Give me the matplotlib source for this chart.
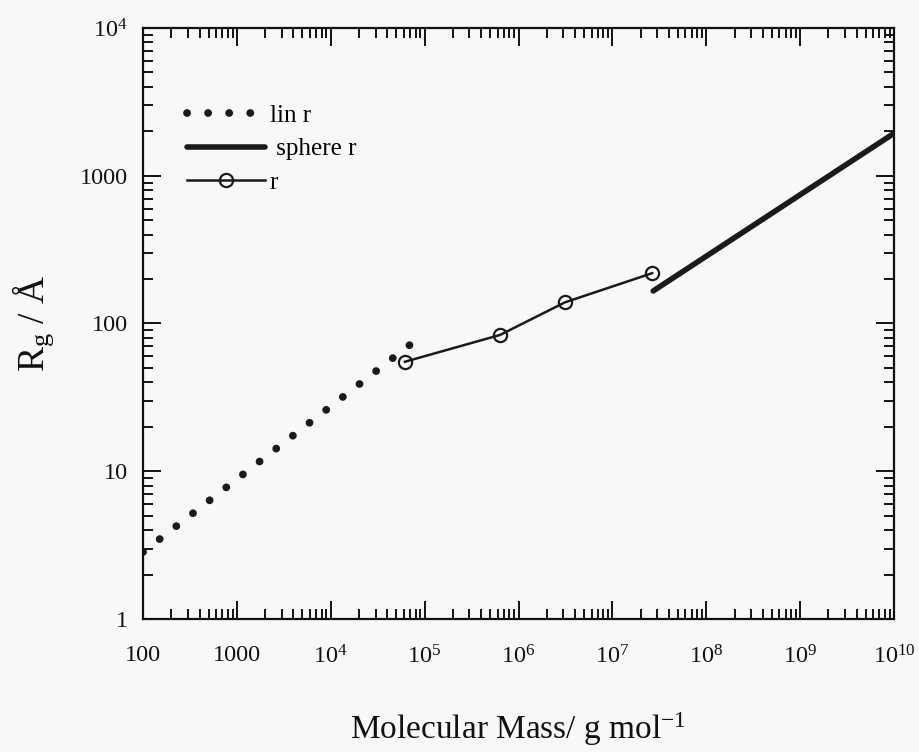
import math
import matplotlib.pyplot as plt
from matplotlib.ticker import LogLocator, FuncFormatter, NullFormatter

plt.rcParams['font.family'] = ['Liberation Serif', 'DejaVu Serif']
plt.rcParams['mathtext.fontset'] = 'custom'
plt.rcParams['mathtext.rm'] = 'Liberation Serif'
plt.rcParams['mathtext.it'] = 'Liberation Serif:italic'

# Linear (rod) model: end points of the straight line on log-log axes
lin_mass = [100, 7.15e4]
lin_rg = [2.84, 72.6]

# Sphere model
sphere_mass = [2.72e7, 1e10]
sphere_rg = [166, 1938]

# Measured radii of gyration
r_mass = [6.17e4, 6.34e5, 3.12e6, 2.65e7]
r_rg = [55.1, 83.6, 139, 219]

fig = plt.figure(figsize=(9.19, 7.52), dpi=100, facecolor='#f8f8f8')
ax = fig.add_axes([143 / 919, 1 - 619 / 752, (894 - 143) / 919, (619 - 28) / 752])
ax.set_facecolor('#f8f8f8')

ax.plot(lin_mass, lin_rg, color='#1a1a1a', lw=5.6,
        linestyle=(0, (0.01, 2.7)), dash_capstyle='round', label='lin r')
ax.plot(sphere_mass, sphere_rg, color='#1a1a1a', lw=4.0,
        solid_capstyle='round', label=' sphere r')
ax.plot(r_mass, r_rg, color='#1a1a1a', lw=1.8, marker='o', ms=9.5,
        mfc='none', mec='#1a1a1a', mew=1.6, label='r')

ax.set_xscale('log')
ax.set_yscale('log')
ax.set_xlim(100, 1e10)
ax.set_ylim(1, 1e4)


def log_label(v, pos):
    if v <= 1000:
        return f'{v:g}'
    exp = int(round(math.log10(v)))
    return r'$\mathrm{10^{%d}}$' % exp


ax.xaxis.set_major_locator(LogLocator(base=10, numticks=20))
ax.yaxis.set_major_locator(LogLocator(base=10, numticks=20))
ax.xaxis.set_minor_locator(LogLocator(base=10, subs=range(2, 10), numticks=20))
ax.yaxis.set_minor_locator(LogLocator(base=10, subs=range(2, 10), numticks=20))
ax.xaxis.set_major_formatter(FuncFormatter(log_label))
ax.yaxis.set_major_formatter(FuncFormatter(log_label))
ax.xaxis.set_minor_formatter(NullFormatter())
ax.yaxis.set_minor_formatter(NullFormatter())

ax.tick_params(which='both', direction='in', top=True, right=True,
               colors='#111111', labelsize=17.5, width=1.4)
ax.tick_params(which='major', length=13)
ax.tick_params(which='minor', length=7)
ax.tick_params(axis='x', which='major', pad=19)
ax.tick_params(axis='y', which='major', pad=11)
for s in ax.spines.values():
    s.set_linewidth(1.6)
    s.set_color('#111111')

ax.set_xlabel(r'Molecular Mass/ g mol$^{-1}$', fontsize=24, labelpad=30,
              color='#111111')
ax.set_ylabel(r'R$_\mathrm{g}$ / Å', fontsize=27, labelpad=17,
              color='#111111')

ax.legend(loc='upper left', bbox_to_anchor=(187 / 919, 1 - 104 / 752),
          bbox_transform=fig.transFigure, frameon=False, fontsize=18,
          handlelength=3.1, handletextpad=0.2, borderpad=0, borderaxespad=0,
          labelspacing=0.45, numpoints=1)

fig.savefig('out.png', dpi=100, facecolor=fig.get_facecolor())
